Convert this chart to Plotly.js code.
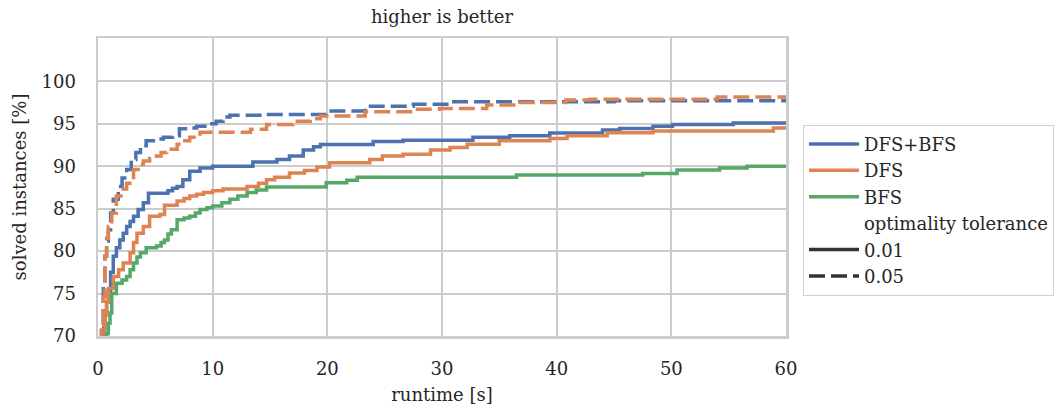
<!DOCTYPE html>
<html>
<head>
<meta charset="utf-8">
<script src="https://cdn.plot.ly/plotly-3.0.1.min.js"></script>
<style>html,body{margin:0;padding:0;background:#fff;}#chart{width:1054px;height:412px;}</style>
</head>
<body>
<div id="chart"></div>
<script>
// ---- data (runtime [s] vs solved instances [%]) ----
const algorithms = ["DFS+BFS", "DFS", "BFS"];
const tolerances = ["0.01", "0.05"];
const xTicks = [0, 10, 20, 30, 40, 50, 60];
const yTicks = [70, 75, 80, 85, 90, 95, 100];

// DFS+BFS, tolerance 0.01
const dfsbfs01_x = [0.3, 0.5, 0.6, 0.75, 0.9, 1.1, 1.33, 1.6, 1.9, 2.2, 2.5, 2.8, 3.1, 3.5, 3.95, 4.4, 6.1, 6.5, 6.9, 7.4, 8.0, 8.9, 10.0, 13.5, 15.6, 16.7, 17.9, 18.8, 19.4, 24.0, 26.6, 32.7, 35.9, 39.4, 44.0, 45.5, 48.4, 50.1, 55.4, 60];
const dfsbfs01_y = [69, 71, 72.5, 74, 75.4, 77.5, 79.4, 80.4, 81.3, 82.1, 82.9, 83.5, 84.1, 84.9, 85.7, 86.8, 87.1, 87.4, 87.6, 88.4, 89.4, 89.8, 90.0, 90.5, 90.8, 91.2, 91.9, 92.3, 92.55, 92.9, 93.05, 93.4, 93.6, 93.9, 94.25, 94.45, 94.7, 94.9, 95.1, 95.1];

// DFS, tolerance 0.01
const dfs01_x = [0.35, 0.46, 0.6, 0.75, 0.9, 1.33, 1.8, 2.2, 2.8, 3.1, 3.4, 3.95, 4.5, 5.4, 5.8, 6.9, 7.5, 8.0, 8.6, 9.2, 10.0, 10.9, 13.0, 14.0, 14.7, 15.4, 16.7, 18.0, 19.1, 20.2, 23.7, 24.8, 26.6, 29.0, 30.7, 32.2, 35.0, 39.4, 40.9, 44.4, 48.4, 58.9, 60];
const dfs01_y = [69, 70.7, 72.5, 74, 75.6, 77, 77.8, 78.6, 79.8, 81, 82.1, 82.9, 84.1, 84.3, 85.4, 85.9, 86.2, 86.5, 86.7, 86.9, 87.1, 87.3, 87.6, 88.0, 88.4, 88.7, 89.2, 89.5, 89.9, 90.4, 90.8, 91.2, 91.4, 91.9, 92.2, 92.6, 93.0, 93.25, 93.6, 93.95, 94.15, 94.5, 94.5];

// BFS, tolerance 0.01
const bfs01_x = [0.5, 0.75, 0.9, 1.05, 1.2, 1.6, 2.1, 2.5, 2.8, 3.1, 3.4, 3.7, 4.2, 5.1, 5.5, 5.8, 6.1, 6.4, 6.9, 7.5, 8.0, 8.5, 8.9, 9.5, 10.0, 10.8, 11.5, 12.2, 13.0, 13.8, 14.7, 19.9, 21.7, 22.6, 36.5, 47.5, 50.5, 54.2, 56.6, 60];
const bfs01_y = [69, 70.3, 71.5, 72.7, 75.0, 76.2, 76.6, 77.0, 77.8, 78.6, 79.3, 79.8, 80.4, 80.6, 81.0, 81.3, 82.0, 82.5, 83.7, 83.9, 84.1, 84.5, 84.9, 85.1, 85.3, 85.7, 86.1, 86.5, 86.9, 87.2, 87.55, 88.05, 88.35, 88.7, 88.95, 89.15, 89.55, 89.8, 90.0, 90.0];

// DFS+BFS, tolerance 0.05
const dfsbfs05_x = [0.25, 0.3, 0.46, 0.6, 0.75, 0.9, 1.1, 1.33, 1.77, 2.1, 2.5, 2.9, 3.3, 3.7, 4.2, 5.2, 5.7, 6.5, 7.1, 7.8, 8.6, 9.5, 10.3, 10.9, 11.5, 14.5, 19.9, 23.3, 27.5, 30.7, 45, 60];
const dfsbfs05_y = [69, 71.5, 76.2, 79.4, 81.2, 82.5, 84.5, 86.1, 87.6, 88.6, 89.6, 90.8, 91.6, 92.4, 93.0, 93.2, 93.4, 93.6, 94.4, 94.5, 94.7, 95.0, 95.3, 95.8, 96.0, 96.1, 96.5, 97.05, 97.3, 97.6, 97.7, 97.7];

// DFS, tolerance 0.05
const dfs05_x = [0.25, 0.3, 0.46, 0.6, 0.75, 0.9, 1.2, 1.6, 2.0, 2.5, 3.1, 3.5, 3.95, 4.5, 5.1, 5.5, 6.0, 6.9, 7.4, 8.0, 8.9, 13.3, 14.7, 17.0, 18.5, 19.4, 23.3, 27.5, 29.8, 33.9, 36.8, 40.8, 42.9, 54.0, 60];
const dfs05_y = [69, 70.7, 74.6, 79.4, 81.5, 82.9, 84.5, 86.5, 87.3, 88.0, 89.6, 90.2, 90.6, 90.9, 91.2, 91.6, 92.0, 92.6, 93.0, 93.4, 94.0, 94.35, 94.9, 95.3, 95.6, 95.9, 96.4, 96.7, 96.8, 97.2, 97.5, 97.8, 97.9, 98.15, 98.15];

// ---- styles ----
const colors = {"DFS+BFS": "#4C72B0", "DFS": "#DD8452", "BFS": "#55A868"};
const LW = 3.5;
const DASH = "16px,6px";
const FONT = "DejaVu Serif";
const FS = 18;
const TXT = "#262626";

function stepTrace(x, y, color, dashed) {
  return {x: x, y: y, mode: "lines", type: "scatter", showlegend: false, hoverinfo: "skip",
    line: {color: color, width: LW, shape: "hv", dash: dashed ? DASH : "solid"}};
}
function legendTrace(name, color, dashed) {
  return {x: [null], y: [null], mode: "lines", type: "scatter", name: name, showlegend: true,
    line: {color: color, width: LW, dash: dashed ? DASH : "solid"}};
}

const traces = [
  stepTrace(dfsbfs01_x, dfsbfs01_y, colors["DFS+BFS"], false),
  stepTrace(dfs01_x, dfs01_y, colors["DFS"], false),
  stepTrace(bfs01_x, bfs01_y, colors["BFS"], false),
  stepTrace(dfsbfs05_x, dfsbfs05_y, colors["DFS+BFS"], true),
  stepTrace(dfs05_x, dfs05_y, colors["DFS"], true),
  legendTrace(algorithms[0], colors["DFS+BFS"], false),
  legendTrace(algorithms[1], colors["DFS"], false),
  legendTrace(algorithms[2], colors["BFS"], false),
  legendTrace("optimality tolerance", "rgba(0,0,0,0)", false),
  legendTrace(tolerances[0], "#333333", false),
  legendTrace(tolerances[1], "#333333", true)
];

const axisCommon = {
  showgrid: true, gridcolor: "#cccccc", gridwidth: 2,
  showline: true, mirror: true, linecolor: "#cccccc", linewidth: 2.5,
  zeroline: false, ticks: "", fixedrange: true,
  tickfont: {family: FONT, size: FS, color: TXT}
};

const layout = {
  width: 1054, height: 412,
  margin: {l: 98, r: 268, t: 38, b: 76, autoexpand: false},
  paper_bgcolor: "#ffffff", plot_bgcolor: "#ffffff",
  font: {family: FONT, color: TXT},
  title: {text: "higher is better", font: {family: FONT, size: FS, color: TXT},
    xref: "paper", x: 0.5, xanchor: "center", yref: "container", y: 1 - 17/412, yanchor: "middle"},
  xaxis: Object.assign({}, axisCommon, {
    range: [0, 60], tickvals: xTicks, ticktext: xTicks.map(String), ticklabelstandoff: 15,
    title: {text: "runtime [s]", font: {family: FONT, size: FS, color: TXT}, standoff: 11}
  }),
  yaxis: Object.assign({}, axisCommon, {
    range: [70, 105.1], tickvals: yTicks, ticktext: yTicks.map(String), ticklabelstandoff: 16,
    title: {text: "solved instances [%]", font: {family: FONT, size: FS, color: TXT}, standoff: 10}
  }),
  legend: {
    x: 1.0247, y: 0.709, xanchor: "left", yanchor: "top",
    bgcolor: "#ffffff", bordercolor: "#d0d0d0", borderwidth: 1,
    font: {family: FONT, size: FS, color: TXT},
    itemwidth: 50, traceorder: "normal", itemclick: false, itemdoubleclick: false
  },
  showlegend: true
};

Plotly.newPlot("chart", traces, layout, {displayModeBar: false, staticPlot: true});
</script>
</body>
</html>
